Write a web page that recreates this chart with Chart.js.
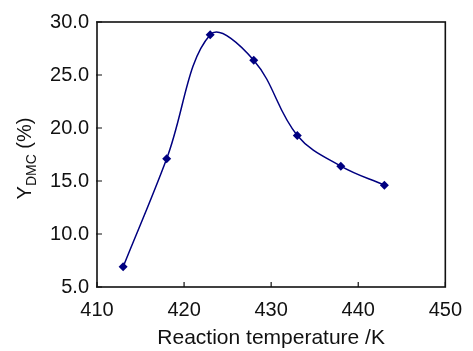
<!DOCTYPE html>
<html>
<head>
<meta charset="utf-8">
<script src="https://cdn.jsdelivr.net/npm/chart.js@4/dist/chart.umd.min.js"></script>
<style>
  html, body { margin: 0; padding: 0; background: #fff; }
  #wrap { width: 473px; height: 351px; }
</style>
</head>
<body>
<div id="wrap"><canvas id="yieldChart" width="473" height="351"></canvas></div>
<script>
const temps = [413, 418, 423, 428, 433, 438, 443];
const yields = [6.9, 17.1, 28.8, 26.4, 19.3, 16.4, 14.6];
const xTicks = [410, 420, 430, 440, 450];
const yTicks = [5, 10, 15, 20, 25, 30];

const FONT = "'Liberation Sans', Arial, Helvetica, sans-serif";
const INK = "#000080";

// frame + inward tick marks + rotated y title with subscript
const framePlugin = {
  id: "frame",
  beforeDatasetsDraw(chart) {
    const { ctx, chartArea: a, scales } = chart;
    ctx.save();
    ctx.strokeStyle = "#111";
    ctx.lineWidth = 1.6;
    ctx.strokeRect(a.left, a.top, a.right - a.left, a.bottom - a.top);
    ctx.lineWidth = 1.2;
    ctx.beginPath();
    xTicks.forEach((v) => {
      const x = scales.x.getPixelForValue(v);
      ctx.moveTo(x, a.bottom);
      ctx.lineTo(x, a.bottom - 5);
    });
    yTicks.forEach((v) => {
      const y = scales.y.getPixelForValue(v);
      ctx.moveTo(a.left - 1, y);
      ctx.lineTo(a.left + 5, y);
    });
    ctx.stroke();
    ctx.restore();
  },
  afterDraw(chart) {
    const { ctx, chartArea: a } = chart;
    const parts = [
      { t: "Y", size: 20, dy: 0 },
      { t: "DMC", size: 14, dy: 5 },
      { t: " (%)", size: 20, dy: 0 },
    ];
    ctx.save();
    let total = 0;
    parts.forEach((p) => {
      ctx.font = `${p.size}px ${FONT}`;
      p.w = ctx.measureText(p.t).width;
      total += p.w;
    });
    ctx.translate(31, (a.top + a.bottom) / 2 + 4);
    ctx.rotate(-Math.PI / 2);
    ctx.fillStyle = "#111";
    ctx.textBaseline = "alphabetic";
    let x = -total / 2;
    parts.forEach((p) => {
      ctx.font = `${p.size}px ${FONT}`;
      ctx.fillText(p.t, x, p.dy);
      x += p.w;
    });
    ctx.restore();
  },
};

new Chart(document.getElementById("yieldChart"), {
  type: "line",
  data: {
    datasets: [{
      data: temps.map((t, i) => ({ x: t, y: yields[i] })),
      borderColor: INK,
      backgroundColor: INK,
      borderWidth: 1.5,
      tension: 0.38,
      pointStyle: "rectRot",
      pointRadius: 4.5,
      pointBorderWidth: 0,
      pointBackgroundColor: INK,
    }],
  },
  options: {
    responsive: false,
    animation: false,
    layout: { padding: { top: 22, right: 20, left: 0, bottom: 0 } },
    plugins: { legend: { display: false }, tooltip: { enabled: false } },
    scales: {
      x: {
        type: "linear",
        min: 410,
        max: 450,
        afterBuildTicks: (s) => { s.ticks = xTicks.map((v) => ({ value: v })); },
        afterFit: (s) => { s.height = 64; },
        grid: { drawOnChartArea: false, drawTicks: false },
        border: { display: false },
        ticks: { color: "#111", font: { family: FONT, size: 20 }, padding: 11, maxRotation: 0 },
        title: { display: true, text: "Reaction temperature /K", color: "#111", font: { family: FONT, size: 21 }, padding: 0 },
      },
      y: {
        min: 5,
        max: 30,
        afterBuildTicks: (s) => { s.ticks = yTicks.map((v) => ({ value: v })); },
        afterFit: (s) => { s.width = 97; },
        grid: { drawOnChartArea: false, drawTicks: false },
        border: { display: false },
        ticks: { color: "#111", font: { family: FONT, size: 20 }, padding: 8, callback: (v) => Number(v).toFixed(1) },
      },
    },
  },
  plugins: [framePlugin],
});
</script>
</body>
</html>
